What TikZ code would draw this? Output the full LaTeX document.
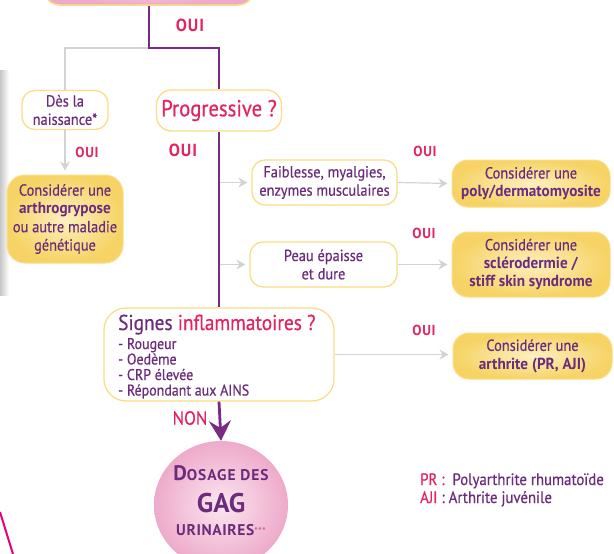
\documentclass[tikz,border=0pt]{standalone}
\usepackage{fontspec}
\setmainfont{PT Sans}[FakeStretch=0.9, UprightFeatures={FakeBold=0.5}, BoldFeatures={FakeStretch=0.95}]
\newfontfamily\wideb{PT Sans Bold}
\usetikzlibrary{shapes.geometric,arrows.meta}
\definecolor{txtp}{HTML}{6B2C7B}
\definecolor{trunkp}{HTML}{7B2A84}
\definecolor{crim}{HTML}{E3245F}
\definecolor{lgray}{HTML}{D3D3D3}
\definecolor{byel}{HTML}{F9DE86}
\definecolor{yin}{HTML}{FDF0C0}
\definecolor{yout}{HTML}{F6D364}
\definecolor{pin}{HTML}{FBE6F0}
\definecolor{pout}{HTML}{EEAACA}
\definecolor{magl}{HTML}{E5007E}
\newcommand{\fsz}[2]{\fontsize{#1}{#2}\selectfont}
\tikzset{
  qbox/.style={draw=byel, line width=1.3pt, fill=white, rounded corners=13pt, align=center, text=txtp, font=\fsz{16}{18.3}, inner sep=0pt},
  rbox/.style={draw=byel, line width=1pt, shade, inner color=yin, outer color=yout, rounded corners=16pt, align=center, text=txtp, font=\fsz{16}{18.3}, inner sep=0pt},
  oui/.style={text=crim, font=\fsz{14.5}{16}\bfseries\addfontfeature{LetterSpace=5}, inner sep=0pt},
  bigoui/.style={text=crim, font=\fsz{17.5}{19}\bfseries\addfontfeature{LetterSpace=5}, inner sep=0pt},
  trunk/.style={draw=trunkp, line width=2.8pt},
  gline/.style={draw=lgray, line width=1.2pt},
  garrow/.style={gline, -{Stealth[length=9pt,width=10pt,inset=3pt]}, shorten >=4pt},
  listitem/.style={anchor=base west, inner sep=0pt, text=txtp, font=\fsz{15.5}{16}}
}
\begin{document}
\begin{tikzpicture}[x=1pt,y=-1pt]
\useasboundingbox (0,0) rectangle (614,554);
\fill[white] (0,0) rectangle (614,554);
\shade[left color=black!22, right color=white] (0,70) rectangle (9,295);
\draw[magl, line width=2pt] (0,512) -- (13,554);

% top box
\node[draw=byel, line width=1.5pt, shade, inner color=pin, outer color=pout, rounded corners=16pt, minimum width=210pt, minimum height=50pt] (top) at (149,-20) {};

\coordinate (j1) at (149,48);
\coordinate (j2) at (219,48);

% nodes
\node[qbox, minimum width=86pt, minimum height=39pt] (des) at (65,110) {Dès la\\naissance*};
\node[rbox, rounded corners=18pt, minimum width=116pt, minimum height=88pt] (arthro) at (65,219) {Considérer une\\\textbf{arthrogrypose}\\ou autre maladie\\génétique};
\node[qbox, minimum width=125pt, minimum height=41pt, text=crim, font=\fsz{23}{25}, rounded corners=15pt] (prog) at (219,110.5) {Progressive ?};
\node[qbox, minimum width=145pt, minimum height=45pt] (fa) at (324.5,182.5) {Faiblesse, myalgies,\\enzymes musculaires};
\node[rbox, minimum width=158pt, minimum height=47pt] (poly) at (531,183.5) {Considérer une\\\textbf{poly/dermatomyosite}};
\node[qbox, minimum width=147pt, minimum height=45pt] (peau) at (323.5,264.5) {Peau épaisse\\et dure};
\node[rbox, minimum width=158pt, minimum height=65pt] (scl) at (531,264.5) {Considérer une\\\textbf{sclérodermie /}\\\textbf{stiff skin syndrome}};
\node[qbox, minimum width=230pt, minimum height=93pt, rounded corners=22pt] (sig) at (219,354.5) {};
\node[anchor=base west, inner sep=0pt, text=txtp, font=\fsz{21.5}{24}] (sigt) at (118,330) {Signes \textcolor{crim}{inflammatoires ?}};
\node[listitem] (s1) at (118,349) {- Rougeur};
\node[listitem] (s2) at (118,364.5) {- Oedème};
\node[listitem] (s3) at (118,380) {- CRP élevée};
\node[listitem] (s4) at (118,395.5) {- Répondant aux AINS};
\node[rbox, minimum width=159pt, minimum height=46pt] (arth) at (532.5,356) {Considérer une\\\textbf{arthrite (PR, AJI)}};

\node[ellipse, shade, inner color=pin, outer color=pout, minimum width=134pt, minimum height=128pt] (gag) at (221,505) {};
\node[anchor=base, inner sep=0pt, text=txtp, font=\wideb\addfontfeature{LetterSpace=6}] (g1) at (221,480) {\fsz{21}{22}D\fsz{15.5}{16}OSAGE DES};
\node[anchor=base, inner sep=0pt, text=txtp, font=\fsz{27}{28}\wideb] (g2) at (221,512) {GAG};
\node[anchor=base, inner sep=0pt, text=txtp, font=\fsz{15.5}{16}\wideb\addfontfeature{LetterSpace=4}] (g3) at (221,535) {URINAIRES\textcolor{crim!60!txtp!70!white}{\fsz{9.5}{9}\raisebox{1pt}{***}}};

% connectors
\draw[gline] (j1) -- (j1 -| des.north) -- (des.north);
\draw[garrow] (des.south) -- (arthro.north);
\draw[garrow] (fa.west -| prog.south) -- (fa.west);
\draw[garrow] (fa.east) -- (poly.west);
\draw[garrow] (peau.west -| prog.south) -- (peau.west);
\draw[garrow] (peau.east) -- (scl.west);
\draw[garrow] (sig.east) -- (sig.east -| arth.west);
\draw[trunk] (top.south) -- (j1) -- (j2) -- (prog.north);
\draw[trunk] (prog.south) -- (sig.north);
\draw[trunk, -{Stealth[length=20pt,width=22pt,inset=7pt]}] (sig.south) -- (gag.north);

% labels
\node[bigoui] (o1) at (190,25) {OUI};
\node[bigoui] (o2) at (183,150) {OUI};
\node[oui] (o3) at (87,152) {OUI};
\node[oui] (o4) at (425,151) {OUI};
\node[oui] (o5) at (424,233) {OUI};
\node[oui] (o6) at (424,330) {OUI};
\node[text=crim, font=\fsz{19}{20}, inner sep=0pt] (non) at (190,418) {NON};

\node[anchor=base west, inner sep=0pt, text=txtp, font=\fsz{16.5}{18}] (l1) at (420,485) {\textcolor{crim}{PR :}\ \ Polyarthrite rhumatoïde};
\node[anchor=base west, inner sep=0pt, text=txtp, font=\fsz{16.5}{18}] (l2) at (420,503) {\textcolor{crim}{AJI} : Arthrite juvénile};
\end{tikzpicture}
\end{document}
